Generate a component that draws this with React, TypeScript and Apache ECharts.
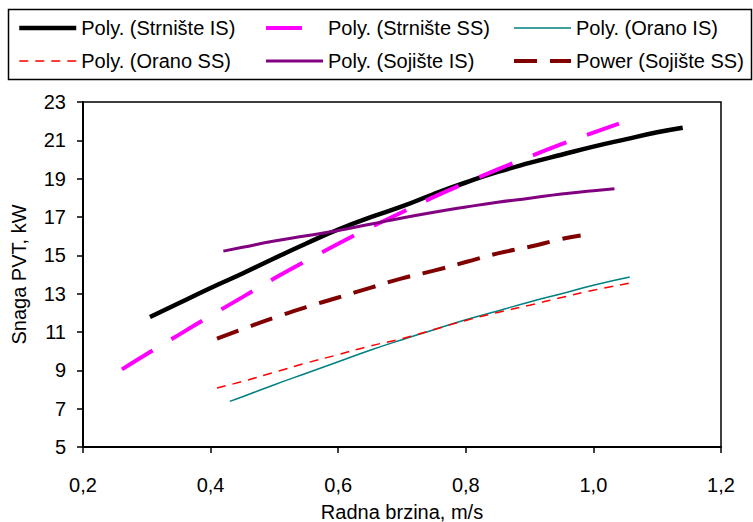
import React, { useEffect, useRef } from 'react';
import * as echarts from 'echarts';

const seriesNames = [
  'Poly. (Strnište IS)',
  'Poly. (Strnište SS)',
  'Poly. (Orano IS)',
  'Poly. (Orano SS)',
  'Poly. (Sojište IS)',
  'Power (Sojište SS)',
];

const strnisteIS_x = [0.305, 0.35, 0.4, 0.45, 0.5, 0.55, 0.6, 0.65, 0.7, 0.75, 0.8, 0.85, 0.9, 0.95, 1.0, 1.05, 1.1, 1.14];
const strnisteIS_y = [11.78, 12.5, 13.3, 14.05, 14.85, 15.62, 16.35, 16.98, 17.55, 18.2, 18.8, 19.35, 19.82, 20.25, 20.67, 21.05, 21.42, 21.66];

const strnisteSS_x = [0.261, 0.3, 0.35, 0.4, 0.45, 0.5, 0.55, 0.6, 0.65, 0.7, 0.75, 0.8, 0.85, 0.9, 0.95, 1.0, 1.04];
const strnisteSS_y = [9.05, 9.85, 10.85, 11.85, 12.82, 13.8, 14.72, 15.6, 16.45, 17.25, 18.05, 18.78, 19.48, 20.15, 20.8, 21.4, 21.87];

const oranoIS_x = [0.43, 0.45, 0.5, 0.55, 0.6, 0.65, 0.7, 0.75, 0.8, 0.85, 0.9, 0.95, 1.0, 1.057];
const oranoIS_y = [7.38, 7.62, 8.25, 8.85, 9.45, 10.05, 10.6, 11.12, 11.64, 12.1, 12.57, 13.0, 13.44, 13.87];

const oranoSS_x = [0.41, 0.45, 0.5, 0.55, 0.6, 0.65, 0.7, 0.75, 0.8, 0.85, 0.9, 0.95, 1.0, 1.057];
const oranoSS_y = [8.08, 8.42, 8.9, 9.38, 9.82, 10.27, 10.65, 11.13, 11.6, 12.02, 12.4, 12.8, 13.18, 13.55];

const sojisteIS_x = [0.42, 0.45, 0.5, 0.55, 0.6, 0.65, 0.7, 0.75, 0.8, 0.85, 0.9, 0.95, 1.0, 1.033];
const sojisteIS_y = [15.22, 15.42, 15.75, 16.02, 16.3, 16.62, 16.95, 17.25, 17.52, 17.77, 17.98, 18.2, 18.37, 18.48];

const sojisteSS_x = [0.41, 0.45, 0.5, 0.55, 0.6, 0.65, 0.7, 0.75, 0.8, 0.85, 0.9, 0.95, 0.98];
const sojisteSS_y = [10.65, 11.15, 11.75, 12.3, 12.8, 13.3, 13.8, 14.2, 14.65, 15.1, 15.45, 15.85, 16.04];

const xMin = 0.2;
const xMax = 1.2;
const xStep = 0.2;
const yMin = 5;
const yMax = 23;
const yStep = 2;

const pairs = (xs: number[], ys: number[]) => xs.map((x, i) => [x, ys[i]]);

const FONT = '"Liberation Sans", Arial, sans-serif';
const FS = 20;

export default function App() {
  const ref = useRef<HTMLDivElement>(null);

  useEffect(() => {
    document.body.style.margin = '0';
    if (!ref.current) return;
    const chart = echarts.init(ref.current, null, { renderer: 'svg' });

    const styles = [
      { color: '#000000', width: 4.5, type: 'solid' as any },
      { color: '#FF00FF', width: 4, type: [36, 22] as any },
      { color: '#008080', width: 1.5, type: 'solid' as any },
      { color: '#FF0000', width: 1.5, type: [9, 7] as any },
      { color: '#800080', width: 3, type: 'solid' as any },
      { color: '#800000', width: 4, type: [23, 13] as any },
    ];
    const datas = [
      pairs(strnisteIS_x, strnisteIS_y),
      pairs(strnisteSS_x, strnisteSS_y),
      pairs(oranoIS_x, oranoIS_y),
      pairs(oranoSS_x, oranoSS_y),
      pairs(sojisteIS_x, sojisteIS_y),
      pairs(sojisteSS_x, sojisteSS_y),
    ];

    const legendCommon = {
      orient: 'vertical' as const,
      top: 18,
      padding: 0,
      itemWidth: 57,
      itemHeight: 14,
      itemGap: 13,
      itemStyle: { opacity: 0 },
      lineStyle: { width: 'inherit', type: 'inherit' } as any,
      textStyle: { fontFamily: FONT, fontSize: FS, color: '#000' },
      selectedMode: false,
    };

    chart.setOption({
      animation: false,
      backgroundColor: '#fff',
      graphic: [
        {
          type: 'rect',
          shape: { x: 8.5, y: 9.5, width: 743, height: 70 },
          style: { fill: 'none', stroke: '#000', lineWidth: 1.5 },
          z: 0,
        },
      ],
      legend: [
        { ...legendCommon, left: 17, data: [seriesNames[0], seriesNames[3]] },
        { ...legendCommon, left: 264, data: [seriesNames[1], seriesNames[4]] },
        { ...legendCommon, left: 512, data: [seriesNames[2], seriesNames[5]] },
      ],
      grid: {
        left: 83,
        right: 32,
        top: 102,
        bottom: 75,
        containLabel: false,
        outerBoundsMode: 'none',
        show: true,
        borderColor: '#000',
        borderWidth: 1.5,
        backgroundColor: '#fff',
      },
      xAxis: {
        type: 'value',
        min: xMin,
        max: xMax,
        interval: xStep,
        name: 'Radna brzina, m/s',
        nameLocation: 'middle',
        nameGap: 55,
        nameTextStyle: { fontFamily: FONT, fontSize: FS, color: '#000' },
        axisLine: { show: true, lineStyle: { color: '#000', width: 2 } },
        axisTick: { show: true, length: 6, lineStyle: { color: '#000', width: 1.5 } },
        axisLabel: {
          fontFamily: FONT,
          fontSize: FS,
          color: '#000',
          margin: 28,
          formatter: (v: number) => v.toFixed(1).replace('.', ','),
        },
        splitLine: { show: false },
      },
      yAxis: {
        type: 'value',
        min: yMin,
        max: yMax,
        interval: yStep,
        name: 'Snaga PVT, kW',
        nameLocation: 'middle',
        nameGap: 54,
        nameRotate: 90,
        nameTextStyle: { fontFamily: FONT, fontSize: FS, color: '#000' },
        axisLine: { show: true, lineStyle: { color: '#000', width: 2 } },
        axisTick: { show: true, length: 6, lineStyle: { color: '#000', width: 1.5 } },
        axisLabel: { fontFamily: FONT, fontSize: FS, color: '#000', margin: 17 },
        splitLine: { show: false },
      },
      series: seriesNames.map((name, i) => ({
        name,
        type: 'line',
        data: datas[i],
        symbol: 'none',
        smooth: true,
        color: styles[i].color,
        lineStyle: { color: styles[i].color, width: styles[i].width, type: styles[i].type, cap: 'butt' },
      })),
    });

    return () => chart.dispose();
  }, []);

  return <div ref={ref} style={{ width: 753, height: 522 }} />;
}
